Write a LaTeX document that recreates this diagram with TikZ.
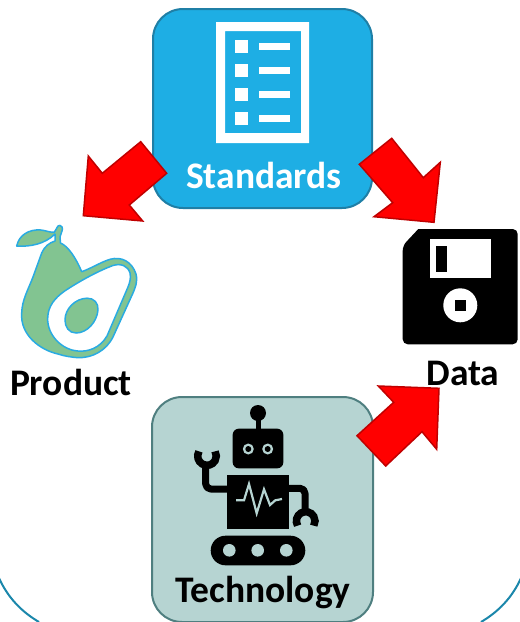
\documentclass[tikz,border=0pt]{standalone}
\usepackage{fontspec}
\setmainfont{Carlito}
\definecolor{stdblue}{HTML}{1EAEE4}
\definecolor{stdline}{HTML}{1F7FA6}
\definecolor{techfill}{HTML}{B6D4D2}
\definecolor{techline}{HTML}{4F7F80}
\definecolor{avofill}{HTML}{82C491}
\definecolor{avoline}{HTML}{29ABE2}
\definecolor{arcline}{HTML}{1B87AB}
\definecolor{arrowline}{HTML}{C00000}
\tikzset{
  iconbox/.style={rectangle,rounded corners=30pt,line width=2pt,inner sep=0pt,anchor=north west},
  lbl/.style={font=\bfseries\fontsize{37.5}{38}\selectfont,anchor=base,inner sep=0pt},
  blockarrow/.style={fill=red,draw=arrowline,line width=1.5pt,line join=miter},
  avo/.style={draw=avoline,line width=1.5pt,line join=round},
  limb/.style={draw=black,line width=7pt,line join=round},
  claw/.style={draw=black,line width=7.5pt},
}
\begin{document}
\begin{tikzpicture}[x=1pt,y=-1pt]
\useasboundingbox (0,0) rectangle (520,622);
% outer arcs
\coordinate (arcL1) at (-1,578); \coordinate (arcL2) at (39,622);
\coordinate (arcR1) at (521,578); \coordinate (arcR2) at (481,622);
\draw[arcline,line width=2pt] (arcL1) .. controls (8,598) and (22,612) .. (arcL2);
\draw[arcline,line width=2pt] (arcR1) .. controls (512,598) and (498,612) .. (arcR2);
% boxes
\node[iconbox,draw=stdline,fill=stdblue,minimum width=219pt,minimum height=199pt] (standards) at (152,8) {};
\node[iconbox,draw=techline,fill=techfill,minimum width=221pt,minimum height=225pt] (technology) at (151,396) {};
% document icon
\fill[white,even odd rule] (216,22) rectangle (309,143) (225,31) rectangle (301,133);
\foreach \y in {40,64,88,112}{
  \fill[white] (235,\y) rectangle (248,\y+13);
  \fill[white] (259,\y+3) rectangle (290,\y+10);
}
% robot
\fill (255.5,413) rectangle (261,432);
\fill (258,413) circle (8);
\fill[rounded corners=6pt] (232.7,428.7) rectangle (283.3,468.3);
\foreach \x in {248.3,267.7}{
  \fill[techfill] (\x,449) circle (5.5);
  \fill (\x,449) circle (3);
}
\fill (226.7,474.7) rectangle (289.3,529.3);
\fill[rounded corners=14.8pt] (210.7,535.7) rectangle (305.3,565.3);
\foreach \x in {229.3,257.7,286.3}{ \fill[techfill] (\x,550.3) circle (6.3); }
\draw[limb,rounded corners=5pt] (205.7,463) -- (205.7,489) -- (228,489);
\draw[claw] (207,456) ++(-8.05,-4.65) arc[start angle=210,end angle=-30,radius=9.3];
\draw[limb,rounded corners=5pt] (288,488.3) -- (305,488.3) -- (305,513);
\draw[claw] (305.7,521) ++(-8.05,4.65) arc[start angle=150,end angle=390,radius=9.3];
\draw[techfill,line width=2.2pt,line join=miter] (236,500.3) -- (244,500.3) -- (249,484) -- (256.7,513.3) -- (264,489.3) -- (270,505) -- (275.3,500.3) -- (282,499);
% disk
\fill[rounded corners=5pt] (418.3,229) -- (517.7,229) -- (517.7,344.3) -- (402.7,344.3) -- (402.7,245.7) [sharp corners] -- cycle;
\fill[white] (430,239.3) rectangle (491,278.3);
\fill (436,246) rectangle (447,272);
\fill[white] (460.3,305.3) circle (17);
\fill (455,300) rectangle (466,311);
% avocado
\draw[avo,fill=avofill] (62,227) .. controls (63.5,229) and (61,233) .. (60,237) -- (60.5,243)
  .. controls (68,246) and (76,258) .. (81.7,271.7)
  .. controls (92,268) and (101,262) .. (110,259.3)
  .. controls (122,256) and (132,262) .. (136,274)
  .. controls (138,282) and (135,288) .. (133,293)
  -- (113,337)
  .. controls (106,351) and (92,358) .. (78,357.7)
  .. controls (70,357) and (64,356) .. (58,354)
  .. controls (40,350) and (20,335) .. (21.7,313)
  .. controls (22,300) and (28,290) .. (33,277)
  -- (41.7,253)
  .. controls (45,246) and (49,243) .. (55,241)
  -- (55,234)
  .. controls (45,244) and (30,247) .. (16.7,246)
  .. controls (19,235) and (29,229) .. (41,230)
  .. controls (46,230.5) and (51,233) .. (54.5,232)
  .. controls (56,230) and (57,227) .. (58,226)
  .. controls (59,225) and (61,225) .. (62,227) -- cycle;
\draw[avo,fill=white] (113,265.5)
  .. controls (121,263) and (128,266) .. (130,273)
  .. controls (131,278) and (130,282) .. (128,287)
  -- (107,336)
  .. controls (100,348) and (88,352) .. (78,351)
  .. controls (62,350) and (47,335) .. (47.7,318)
  .. controls (48,306) and (55,298) .. (64,291.5)
  .. controls (78,282) and (98,271) .. (113,265.5) -- cycle;
\draw[avo,fill=avofill] (87,298.2)
  .. controls (94,298) and (98.5,303) .. (98,310)
  .. controls (97,322) and (87,333) .. (76,333)
  .. controls (69,333) and (65,327) .. (65,320)
  .. controls (65,309) and (75,298.5) .. (87,298.2) -- cycle;
% block arrows
\draw[blockarrow] (140.7,141.7) -- (166.7,173.3) -- (129.3,205) -- (142.7,221) -- (83.3,215.7) -- (88.3,156) -- (102.3,173.3) -- cycle;
\draw[blockarrow] (391.7,138.3) -- (423.3,177.7) -- (440.3,162.3) -- (434,222.3) -- (374,216.7) -- (392.7,202.7) -- (359.3,164.3) -- cycle;
\draw[blockarrow] (378.3,386) -- (439,388.3) -- (436.7,449.3) -- (422,431.7) -- (385.7,466) -- (357,435.7) -- (393.7,402.3) -- cycle;
% labels
\node[lbl,text=white] (lblstandards) at (264,188) {Standards};
\node[lbl] (lbltechnology) at (263,602.5) {Technology};
\node[lbl] (lblproduct) at (71,395.5) {Product};
\node[lbl] (lbldata) at (463,385.5) {Data};
\end{tikzpicture}
\end{document}
